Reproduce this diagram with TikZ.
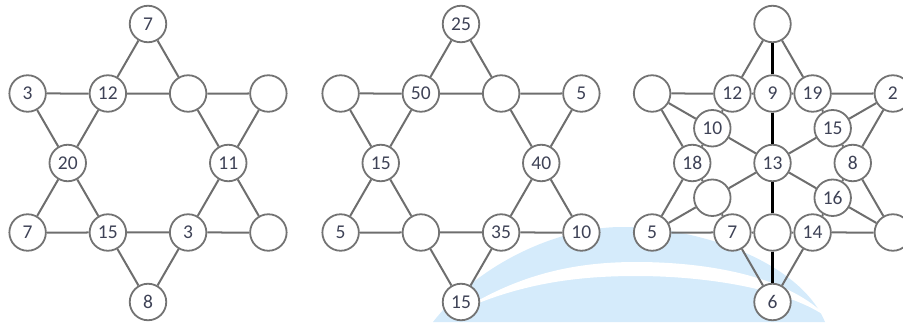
\documentclass[tikz,border=0pt]{standalone}
\usepackage{fontspec}
\setmainfont{Carlito}
\usetikzlibrary{calc}
\definecolor{ringc}{HTML}{737373}
\definecolor{linec}{HTML}{6E6E6E}
\definecolor{txtc}{HTML}{3E4256}
\definecolor{wmblue}{HTML}{D5EBFB}
\newcommand\hexnodes[2]{%
  \foreach \nm/\an/\rr/\lb in {#2}
    \node[nd] (#1\nm) at ($(#1c0)+(\an:\rr)$) {\lb};}
\newcommand\hexedges[1]{%
  \draw[ln] (#1o90)--(#1i120)--(#1i180)--(#1o210)--(#1i240)--(#1i300)--(#1o330)--(#1i0)--(#1i60)--(#1o90);
  \draw[ln] (#1o150)--(#1i120)--(#1i60)--(#1o30)--(#1i0)--(#1i300)--(#1o270)--(#1i240)--(#1i180)--(#1o150);}
\begin{document}
\begin{tikzpicture}[x=1pt,y=1pt,
  nd/.style={circle,draw=ringc,line width=1.8pt,fill=white,minimum size=36.5pt,inner sep=0pt,
    font=\fontsize{19.5}{19.5}\selectfont,text=txtc},
  ln/.style={draw=linec,line width=2pt},
  vl/.style={draw=black,line width=2.4pt}]
\useasboundingbox (0,0) rectangle (903,322);
% watermark swoosh
\fill[wmblue] (433,0) .. controls (480,60) and (560,95) .. (622,95)
  .. controls (700,95) and (800,60) .. (825,0) -- cycle;
\fill[white] (462,12) .. controls (520,48) and (575,60) .. (636,60)
  .. controls (710,60) and (790,45) .. (828,4)
  .. controls (790,32) and (710,46) .. (636,46)
  .. controls (575,46) and (520,38) .. (462,12) -- cycle;
% centres
\coordinate (Ac0) at (148,159);
\coordinate (Bc0) at (461,159);
\coordinate (Cc0) at (772.5,159);
% figure A
\hexnodes{A}{o90/90/139/7, o150/150/139/3, o30/30/139/{}, o210/210/139/7, o330/330/139/{}, o270/270/139/8,
  i120/120/80.25/12, i60/60/80.25/{}, i180/180/80.25/20, i0/0/80.25/11, i240/240/80.25/15, i300/300/80.25/3}
\hexedges{A}
% figure B
\hexnodes{B}{o90/90/139/25, o150/150/139/{}, o30/30/139/5, o210/210/139/5, o330/330/139/10, o270/270/139/15,
  i120/120/80.25/50, i60/60/80.25/{}, i180/180/80.25/15, i0/0/80.25/40, i240/240/80.25/{}, i300/300/80.25/35}
\hexedges{B}
% figure C
\hexnodes{C}{o90/90/139/{}, o150/150/139/{}, o30/30/139/2, o210/210/139/5, o330/330/139/{}, o270/270/139/6,
  i120/120/80.25/12, i60/60/80.25/19, i180/180/80.25/18, i0/0/80.25/8, i240/240/80.25/7, i300/300/80.25/14,
  m90/90/69.5/9, m150/150/69.5/10, m30/30/69.5/15, m210/210/69.5/{}, m270/270/69.5/{}, m330/330/69.5/16}
\node[nd] (Cc) at (Cc0) {13};
\draw[ln] (Co90)--(Ci120)--(Cm150)--(Ci180)--(Co210)--(Ci240)--(Cm270)--(Ci300)--(Co330)--(Ci0)--(Cm30)--(Ci60)--(Co90);
\draw[ln] (Co150)--(Ci120)--(Cm90)--(Ci60)--(Co30)--(Ci0)--(Cm330)--(Ci300)--(Co270)--(Ci240)--(Cm210)--(Ci180)--(Co150);
\draw[ln] (Co150)--(Cm150)--(Cc)--(Cm330)--(Co330);
\draw[ln] (Co30)--(Cm30)--(Cc)--(Cm210)--(Co210);
\draw[vl] (Co90)--(Cm90)--(Cc)--(Cm270)--(Co270);
\end{tikzpicture}
\end{document}
